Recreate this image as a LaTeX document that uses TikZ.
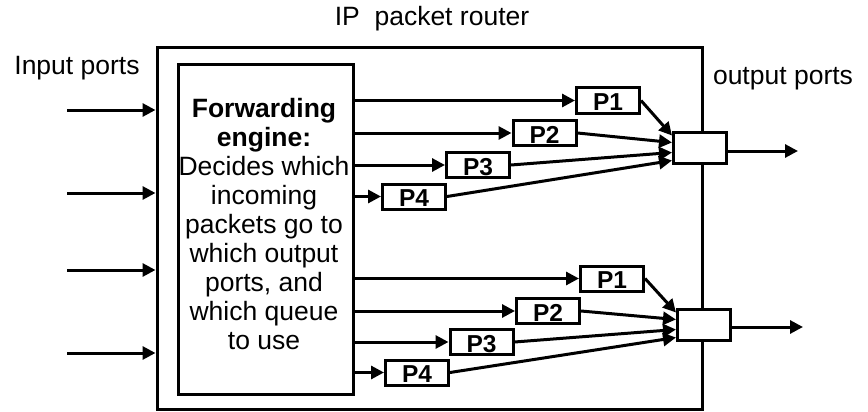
\documentclass[tikz,border=0pt]{standalone}
\usepackage{fontspec}
\setmainfont{Liberation Sans}
\usetikzlibrary{arrows.meta,calc}
\begin{document}
\begin{tikzpicture}[x=1pt,y=-1pt,
  line width=3pt,
  tip/.style={-{Triangle[length=13pt,width=13pt]}},
  frame/.style={draw, rectangle, inner sep=0pt},
  qbox/.style={draw, rectangle, fill=white, inner sep=0pt,
    minimum width=63pt, minimum height=25pt,
    text height=20pt, text depth=0pt,
    font=\fontsize{24.5}{24.5}\selectfont\bfseries},
  outq/.style={draw, rectangle, fill=white, inner sep=0pt,
    minimum width=53pt, minimum height=31pt},
  lbl/.style={font=\fontsize{26.5}{29}\selectfont, inner sep=0pt}
]
\useasboundingbox (0,0) rectangle (868,412);

% router enclosure and forwarding engine
\node[frame, minimum width=545pt, minimum height=361pt] (router) at (429.5,228.5) {};
\node[frame, minimum width=175pt, minimum height=330pt] (fe) at (266,229.5) {};
\node[lbl, align=center] (fetext) at (264,224)
  {\textbf{Forwarding}\\\textbf{engine:}\\Decides which\\incoming\\packets go to\\which output\\ports, and\\which queue\\to use};

% labels
\node[lbl] (title) at (432,19) {IP~ packet router};
\node[lbl] (inlbl) at (77,68) {Input ports};
\node[lbl] (outlbl) at (783,79) {output ports};

% input ports
\foreach \y [count=\i] in {110,193,270,353} {
  \coordinate (in\i) at (67,\y);
  \draw[tip] (in\i) -- (in\i -| router.west);
}

% upper output port: four priority queues
\node[qbox] (a1) at (608,100.5) {P1};
\node[qbox] (a2) at (544.5,133) {P2};
\node[qbox] (a3) at (478,165) {P3};
\node[qbox] (a4) at (414,196.5) {P4};
\node[outq] (qa) at (700,147.5) {};

% lower output port: four priority queues
\node[qbox] (b1) at (612,278.5) {P1};
\node[qbox] (b2) at (548,311) {P2};
\node[qbox] (b3) at (481.5,342) {P3};
\node[qbox] (b4) at (417,372.5) {P4};
\node[outq] (qb) at (704,324.5) {};

% engine to queues
\foreach \p in {a1,a2,a3,a4,b1,b2,b3,b4}
  \draw[tip] (fe.east |- \p.west) -- (\p.west);

% queues to output ports
\foreach \g in {a,b} {
  \draw[tip] (\g1.east) -- ($(q\g.west)+(0,-12)$);
  \draw[tip] (\g2.east) -- ($(q\g.west)+(0,-5)$);
  \draw[tip] (\g3.east) -- ($(q\g.west)+(0,5)$);
  \draw[tip] (\g4.east) -- ($(q\g.west)+(0,13)$);
}

% output links
\coordinate (oa) at (798,151);
\coordinate (ob) at (803,327);
\draw[tip] (qa.east |- oa) -- (oa);
\draw[tip] (qb.east |- ob) -- (ob);
\end{tikzpicture}
\end{document}
